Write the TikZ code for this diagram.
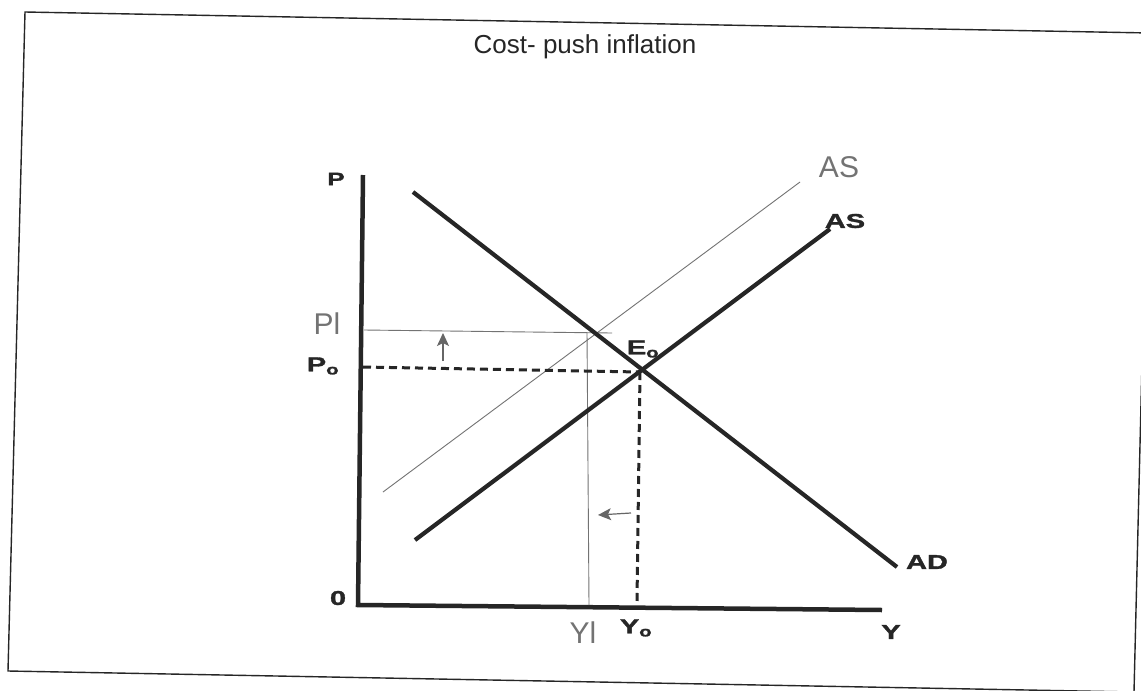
\documentclass[tikz,border=0pt]{standalone}
\usepackage{fontspec}
\setmainfont{Liberation Sans}
\newfontfamily\blkfont[FakeStretch=1.45,FakeBold=1.6]{Liberation Sans Bold}
\usetikzlibrary{arrows.meta}
\begin{document}
\begin{tikzpicture}[x=1pt,y=-1pt,
  frame/.style={draw=black!85, line width=1.4pt},
  axisln/.style={draw=black!85, line width=4.5pt},
  curveln/.style={draw=black!85, line width=4.2pt},
  thinln/.style={draw=black!55, line width=0.9pt},
  dashln/.style={draw=black!85, line width=3pt, dash pattern=on 8pt off 5pt},
  handarrow/.style={draw=black!60, line width=1.2pt, -{Stealth[length=13pt,width=12pt,inset=3pt]}},
  lab/.style={font=\blkfont\fontsize{20}{20}\selectfont, text=black!85, inner sep=0pt},
  hand/.style={font=\fontsize{30}{30}\selectfont, text=black!55, inner sep=0pt},
]
\useasboundingbox (0,0) rectangle (1141,691);
\fill[white] (0,0) rectangle (1141,691);
\begin{scope}
\clip (0,0) rectangle (1141,691);
\draw[frame] (25,12) -- (1150,33) -- (1134,692) -- (8,671) -- cycle;
\end{scope}

\node[font=\fontsize{26}{26}\selectfont, text=black!85, inner sep=0pt] (title) at (585,47) {Cost- push inflation};

% key points
\coordinate (ytop) at (363,175);
\coordinate (orig) at (358,605);
\coordinate (xend) at (882,610);
\coordinate (adstart) at (413,192);
\coordinate (adend) at (897,567);
\coordinate (asstart) at (415,540);
\coordinate (asend) at (830,229);
\coordinate (as1start) at (383,492);
\coordinate (as1end) at (800,182);
\coordinate (E) at (640,372);
\coordinate (p0) at (363,367);
\coordinate (y0) at (637,601);
\coordinate (p1) at (364,330);
\coordinate (p1end) at (612,333);
\coordinate (y1top) at (587,332);
\coordinate (y1) at (589,605);
\coordinate (upA) at (443,361);
\coordinate (upB) at (443,333);
\coordinate (ltA) at (631,513);
\coordinate (ltB) at (598,515);

% axes
\draw[axisln, line cap=butt] (ytop) -- (orig) -- (xend);

% thin shifted AS and P1/Y1 guides
\draw[thinln] (as1start) -- (as1end);
\draw[thinln] (p1) -- (p1end);
\draw[thinln] (y1top) -- (y1);

% dashed equilibrium guides
\draw[dashln] (p0) -- (E);
\draw[dashln] (E) -- (y0);

% AD and AS
\draw[curveln] (adstart) -- (adend);
\draw[curveln] (asstart) -- (asend);

% hand arrows
\draw[handarrow] (upA) -- (upB);
\draw[handarrow] (ltA) -- (ltB);

% labels
\node[lab, font=\blkfont\fontsize{18}{18}\selectfont] (lP) at (336,179) {P};
\node[lab] (lP0) at (323,366) {P\textsubscript{o}};
\node[lab] (l0) at (338,598) {0};
\node[lab] (lE0) at (643,349) {E\textsubscript{o}};
\node[lab] (lAS) at (845,221) {AS};
\node[lab] (lAD) at (927,562) {AD};
\node[lab] (lY) at (891,632) {Y};
\node[lab] (lY0) at (636,628) {Y\textsubscript{o}};
\node[hand] (lP1) at (327,324) {Pl};
\node[hand] (lY1) at (583,633) {Yl};
\node[hand] (lAS1) at (839,167) {AS};
\end{tikzpicture}
\end{document}
